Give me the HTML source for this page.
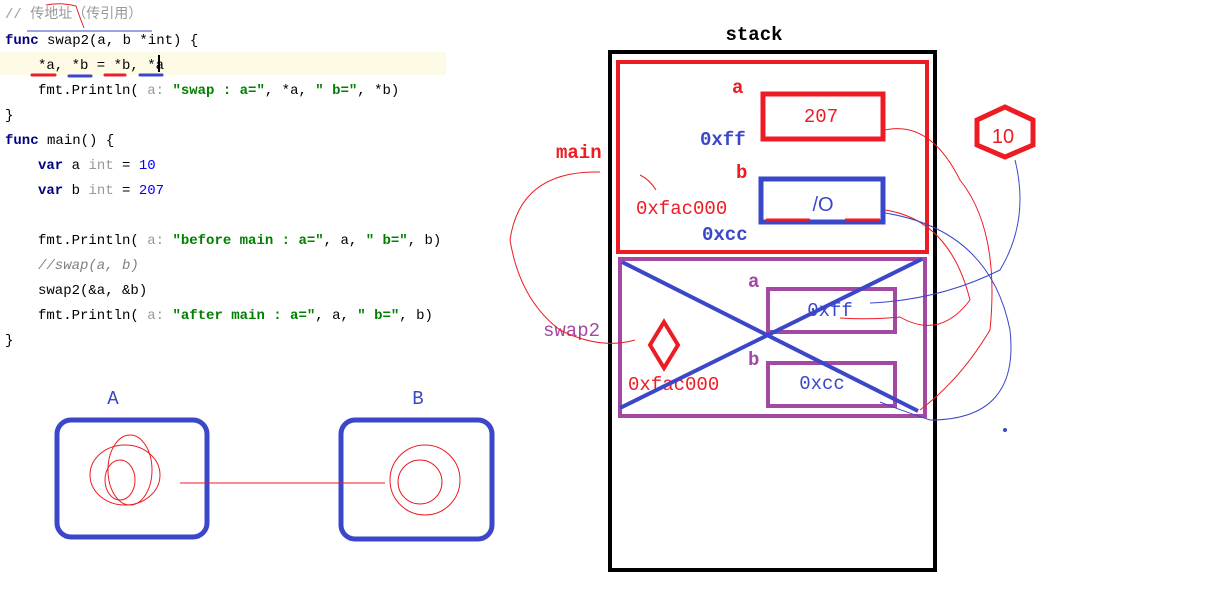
<!DOCTYPE html>
<html><head><meta charset="utf-8"><style>
html,body{margin:0;padding:0;background:#fff;width:1209px;height:607px;overflow:hidden}
svg{display:block}
.c{font-family:"Liberation Mono","Noto Sans CJK SC",monospace;font-size:14px;fill:#000}
.k{fill:#000080;font-weight:bold}
.s{fill:#008000;font-weight:bold}
.n{fill:#0000ff}
.g{fill:#999}
.cm{fill:#808080;font-style:italic}
.lab{font-family:"Liberation Mono",monospace;font-size:19px;font-weight:bold}
</style></head><body>
<svg width="1209" height="607" viewBox="0 0 1209 607">
<g>
<rect x="0" y="52" width="446" height="23" fill="#fdfae6"/>
<text x="5" y="18" class="c g">// 传地址（传引用）</text>
<text x="5" y="44" class="c"><tspan class="k">func</tspan> swap2(a, b *int)  {</text>
<text x="38" y="69" class="c">*a, *b = *b, *a</text>
<rect x="158" y="55" width="2" height="17" fill="#000"/>
<text x="38" y="94" class="c">fmt.Println( <tspan class="g">a:</tspan> <tspan class="s">"swap : a="</tspan>, *a, <tspan class="s">" b="</tspan>, *b)</text>
<text x="5" y="119" class="c">}</text>
<text x="5" y="144" class="c"><tspan class="k">func</tspan> main()  {</text>
<text x="38" y="169" class="c"><tspan class="k">var</tspan> a <tspan class="g">int</tspan> = <tspan class="n">10</tspan></text>
<text x="38" y="194" class="c"><tspan class="k">var</tspan> b <tspan class="g">int</tspan> = <tspan class="n">207</tspan></text>
<text x="38" y="244" class="c">fmt.Println( <tspan class="g">a:</tspan> <tspan class="s">"before main : a="</tspan>, a, <tspan class="s">" b="</tspan>, b)</text>
<text x="38" y="269" class="c cm">//swap(a, b)</text>
<text x="38" y="294" class="c">swap2(&amp;a, &amp;b)</text>
<text x="38" y="319" class="c">fmt.Println( <tspan class="g">a:</tspan> <tspan class="s">"after main : a="</tspan>, a, <tspan class="s">" b="</tspan>, b)</text>
<text x="5" y="344" class="c">}</text>
<g stroke-width="3" stroke-linecap="round">
<line x1="32" y1="75" x2="55" y2="75" stroke="#e8202a"/>
<line x1="69" y1="76" x2="91" y2="76" stroke="#3b47c9"/>
<line x1="105" y1="75" x2="125" y2="75" stroke="#e8202a"/>
<line x1="140" y1="75" x2="162" y2="75" stroke="#3b47c9"/>
</g>
<line x1="27" y1="31" x2="152" y2="31" stroke="#3b47c9" stroke-width="1"/>
<path d="M46 5 Q60 2 76 6 Q80 18 84 28" fill="none" stroke="#e8202a" stroke-width="1"/>
</g>
<g>
<text x="754" y="40" text-anchor="middle" class="lab" fill="#000">stack</text>
<rect x="610" y="52" width="325" height="518" fill="none" stroke="#000" stroke-width="4"/>
<rect x="618" y="62" width="309" height="190" fill="none" stroke="#ed1c24" stroke-width="4"/>
<text x="732" y="93" class="lab" fill="#ed1c24">a</text>
<rect x="763" y="94" width="120" height="45" fill="none" stroke="#ed1c24" stroke-width="5"/>
<text x="821" y="122" text-anchor="middle" class="lab" fill="#ed1c24" style="font-weight:normal">207</text>
<text x="700" y="145" class="lab" fill="#3b47c9">0xff</text>
<text x="736" y="178" class="lab" fill="#ed1c24">b</text>
<rect x="761" y="179" width="122" height="43" fill="none" stroke="#3b47c9" stroke-width="5"/>
<line x1="766" y1="220" x2="810" y2="220" stroke="#ed1c24" stroke-width="3"/>
<line x1="845" y1="220" x2="880" y2="220" stroke="#ed1c24" stroke-width="3"/>
<text x="823" y="211" text-anchor="middle" font-family="Liberation Sans,sans-serif" font-size="20" fill="#3b47c9">/O</text>
<text x="636" y="214" class="lab" fill="#ed1c24" style="font-weight:normal">0xfac000</text>
<text x="702" y="240" class="lab" fill="#3b47c9">0xcc</text>
<text x="556" y="158" class="lab" fill="#ed1c24">main</text>
<rect x="620" y="259" width="305" height="157" fill="none" stroke="#a349a4" stroke-width="4"/>
<text x="748" y="287" class="lab" fill="#a349a4">a</text>
<rect x="768" y="289" width="127" height="43" fill="none" stroke="#a349a4" stroke-width="4"/>
<text x="830" y="316" text-anchor="middle" class="lab" fill="#3b47c9" style="font-weight:normal">0xff</text>
<text x="748" y="365" class="lab" fill="#a349a4">b</text>
<rect x="768" y="363" width="127" height="43" fill="none" stroke="#a349a4" stroke-width="4"/>
<text x="822" y="389" text-anchor="middle" class="lab" fill="#3b47c9" style="font-weight:normal">0xcc</text>
<text x="628" y="390" class="lab" fill="#ed1c24" style="font-weight:normal">0xfac000</text>
<text x="543" y="336" class="lab" fill="#a349a4" style="font-weight:normal">swap2</text>
<polygon points="664,322 678,345 664,368 650,345" fill="none" stroke="#ed1c24" stroke-width="4"/>
<line x1="622" y1="262" x2="918" y2="411" stroke="#3b47c9" stroke-width="4"/>
<line x1="620" y1="408" x2="922" y2="259" stroke="#3b47c9" stroke-width="4"/>
<polygon points="1005,107 1033,120 1033,145 1005,157 977,145 977,120" fill="none" stroke="#ed1c24" stroke-width="5"/>
<text x="1003" y="143" text-anchor="middle" font-family="Liberation Sans,sans-serif" font-size="20" fill="#ed1c24">10</text>
<g fill="none" stroke-width="1">
<path d="M885 130 Q930 120 960 180 Q1000 230 990 330 Q960 380 920 410" stroke="#ed1c24"/>
<path d="M885 210 Q950 220 970 300 Q940 340 900 317 Q870 320 840 318" stroke="#ed1c24"/>
<path d="M885 213 Q990 230 1010 330 Q1020 420 930 420 Q900 410 880 402" stroke="#3b47c9"/>
<path d="M870 303 Q940 300 1000 270 Q1030 220 1015 160" stroke="#3b47c9"/>
<path d="M640 175 Q650 180 656 190 M600 172 Q520 170 510 240 Q520 300 560 330 Q600 350 635 340" stroke="#ed1c24"/>
</g>
<circle cx="1005" cy="430" r="2" fill="#3b47c9"/>
</g>
<g>
<text x="113" y="404" text-anchor="middle" class="lab" fill="#3b47c9" style="font-weight:normal">A</text>
<text x="418" y="404" text-anchor="middle" class="lab" fill="#3b47c9" style="font-weight:normal">B</text>
<rect x="57" y="420" width="150" height="117" rx="14" fill="none" stroke="#3b47c9" stroke-width="5"/>
<rect x="341" y="420" width="151" height="119" rx="14" fill="none" stroke="#3b47c9" stroke-width="5"/>
<g fill="none" stroke="#ed1c24" stroke-width="1">
<ellipse cx="125" cy="475" rx="35" ry="30"/><ellipse cx="130" cy="470" rx="22" ry="35"/><ellipse cx="120" cy="480" rx="15" ry="20"/>
<ellipse cx="425" cy="480" rx="35" ry="35"/><ellipse cx="420" cy="482" rx="22" ry="22"/>
<line x1="180" y1="483" x2="385" y2="483"/>
</g>
</g>
</svg>
</body></html>
